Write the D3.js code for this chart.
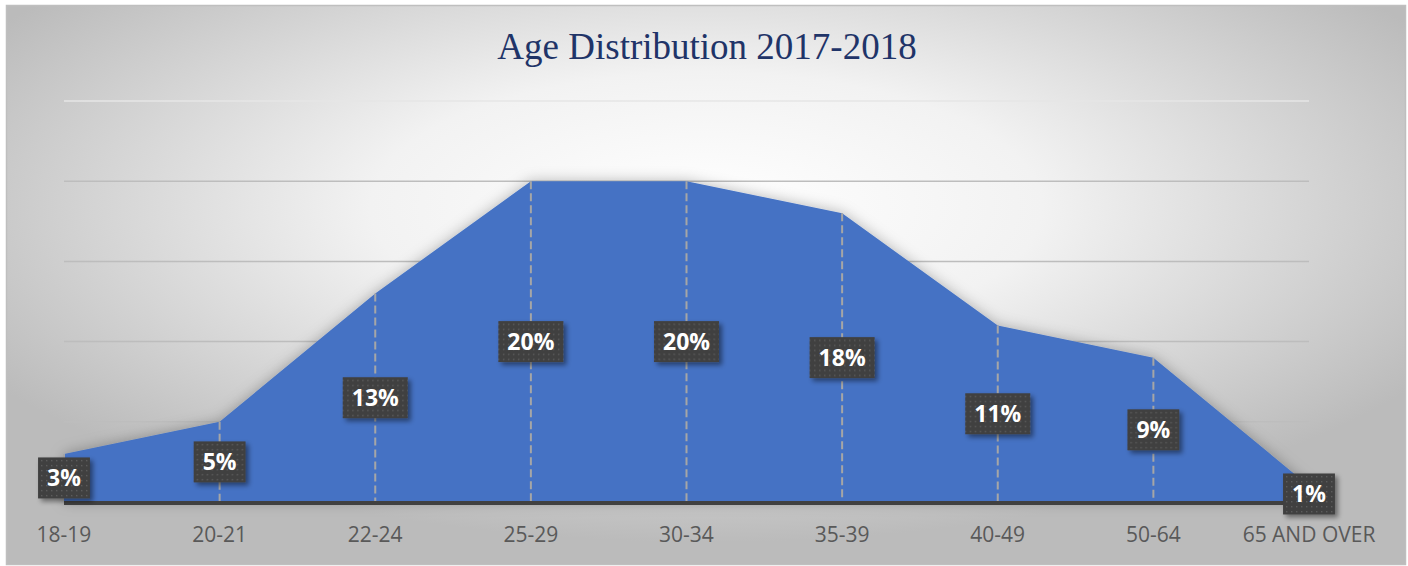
<!DOCTYPE html>
<html lang="en">
<head>
<meta charset="utf-8">
<script src="https://d3js.org/d3.v7.min.js"></script>
<title>Age Distribution 2017-2018</title>
<style>
  body { margin: 0; background: #fff; }
  .axis-label { font-family: "Open Sans", sans-serif; font-size: 21px; fill: #595959; }
  .data-label { font-family: "Open Sans", sans-serif; font-size: 23px; font-weight: bold; fill: #fff; }
</style>
</head>
<body>
<svg width="1408" height="566"></svg>
<script>
// chart data
var ageGroups = ["18-19", "20-21", "22-24", "25-29", "30-34", "35-39", "40-49", "50-64", "65 AND OVER"];
var sharePct = [3, 5, 13, 20, 20, 18, 11, 9, 1];
var gridTicks = [5, 10, 15, 20, 25];

var svg = d3.select("svg");
var defs = svg.append("defs");

// background gradient
var bg = defs.append("radialGradient")
    .attr("id", "bg").attr("cx", "50%").attr("cy", "36%").attr("r", "60%");
bg.append("stop").attr("offset", "0%").attr("stop-color", "#ffffff");
bg.append("stop").attr("offset", "40%").attr("stop-color", "#f2f2f2");
bg.append("stop").attr("offset", "100%").attr("stop-color", "#bbbbbb");

// dotted fill for the value labels
var pat = defs.append("pattern")
    .attr("id", "dots").attr("width", 5).attr("height", 5)
    .attr("patternUnits", "userSpaceOnUse");
pat.append("rect").attr("width", 5).attr("height", 5).attr("fill", "#404040");
pat.append("rect").attr("x", 2).attr("y", 2).attr("width", 1.4).attr("height", 1.4).attr("fill", "#5c5c5c");

var shadow = defs.append("filter").attr("id", "boxShadow")
    .attr("x", "-30%").attr("y", "-30%").attr("width", "160%").attr("height", "160%");
shadow.append("feDropShadow").attr("dx", 3).attr("dy", 3).attr("stdDeviation", 2.5)
    .attr("flood-color", "#000").attr("flood-opacity", 0.45);

var glow = defs.append("filter").attr("id", "areaGlow")
    .attr("x", "-10%").attr("y", "-20%").attr("width", "120%").attr("height", "140%");
glow.append("feDropShadow").attr("dx", 0).attr("dy", 0).attr("stdDeviation", 7)
    .attr("flood-color", "#000").attr("flood-opacity", 0.28);

svg.append("rect")
    .attr("x", 6.5).attr("y", 5.5).attr("width", 1399).attr("height", 559)
    .attr("fill", "url(#bg)").attr("stroke", "#bfbfbf").attr("stroke-width", 1.5);

var x = d3.scalePoint().domain(ageGroups).range([64, 1309]);
var y = d3.scaleLinear().domain([0, 25]).range([502, 101]);

var data = ageGroups.map(function(d, i) { return {age: d, v: sharePct[i]}; });

// gridlines
svg.append("g").selectAll("line")
  .data(gridTicks)
  .enter().append("line")
    .attr("x1", x.range()[0]).attr("x2", x.range()[1])
    .attr("y1", function(d) { return y(d); })
    .attr("y2", function(d) { return y(d); })
    .attr("stroke", function(d) { return d === 25 ? "#e6e6e6" : "#bdbdbd"; })
    .attr("stroke-width", 1.5);

// the area
var area = d3.area()
    .x(function(d) { return x(d.age); })
    .y0(y(0))
    .y1(function(d) { return y(d.v); });

svg.append("path")
    .datum(data)
    .attr("d", area)
    .attr("fill", "#4472c4")
    .attr("filter", "url(#areaGlow)");

// drop lines
svg.append("g").selectAll("line")
  .data(data)
  .enter().append("line")
    .attr("x1", function(d) { return x(d.age); })
    .attr("x2", function(d) { return x(d.age); })
    .attr("y1", function(d) { return y(d.v); })
    .attr("y2", y(0))
    .attr("stroke", "#a6a6a6").attr("stroke-width", 2)
    .attr("stroke-dasharray", "8,4");

// x axis line
svg.append("line")
    .attr("x1", x.range()[0]).attr("x2", x.range()[1])
    .attr("y1", y(0) + 1).attr("y2", y(0) + 1)
    .attr("stroke", "#404040").attr("stroke-width", 4);

// category labels
svg.append("g").selectAll("text")
  .data(ageGroups)
  .enter().append("text")
    .attr("class", "axis-label")
    .attr("x", function(d) { return x(d); })
    .attr("y", 542)
    .attr("text-anchor", "middle")
    .text(function(d) { return d; });

// value labels
var lab = svg.append("g").selectAll("g")
  .data(data)
  .enter().append("g")
    .attr("transform", function(d) { return "translate(" + x(d.age) + "," + ((y(d.v) + y(0)) / 2) + ")"; });

lab.append("rect")
    .attr("fill", "url(#dots)")
    .attr("filter", "url(#boxShadow)");

lab.append("text")
    .attr("class", "data-label")
    .attr("text-anchor", "middle")
    .attr("dy", "0.36em")
    .text(function(d) { return d.v + "%"; });

lab.each(function() {
  var g = d3.select(this);
  var w = g.select("text").node().getComputedTextLength() + 18;
  g.select("rect").attr("x", -w / 2).attr("y", -20.5).attr("width", w).attr("height", 41);
});

// title
svg.append("text")
    .attr("x", 707).attr("y", 59)
    .attr("text-anchor", "middle")
    .style("font-family", "'Liberation Serif', 'Times New Roman', serif")
    .style("font-size", "37px")
    .style("fill", "#1f3468")
    .text("Age Distribution 2017-2018");
</script>
</body>
</html>
